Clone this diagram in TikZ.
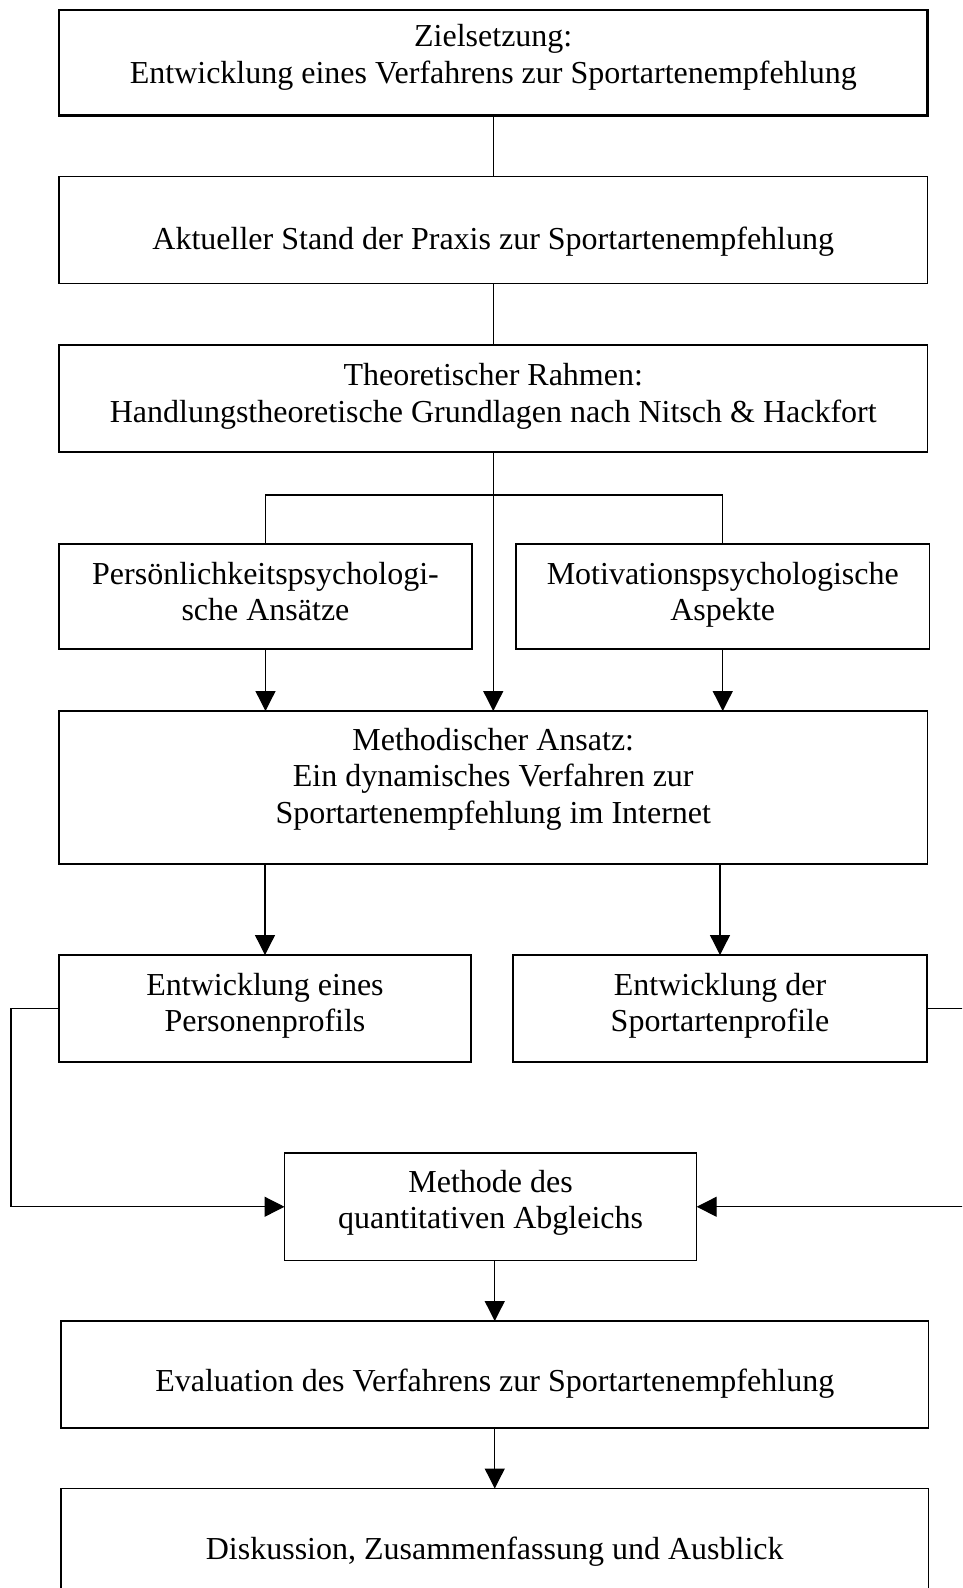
\documentclass[tikz,border=0pt]{standalone}
\usepackage{fontspec}
\setmainfont{Liberation Serif}
\usetikzlibrary{arrows.meta}
\begin{document}
\begin{tikzpicture}[x=1pt,y=-1pt,
  box/.style={draw, rectangle, line width=1.4pt, inner sep=0pt, outer sep=0pt},
  txt/.style={font=\fontsize{32}{36.5}\selectfont, align=center, anchor=base, inner sep=0pt},
  link/.style={line width=1.3pt},
  flow/.style={link, -{Triangle[length=20pt,width=20pt]}}]
\useasboundingbox (0,0) rectangle (962,1588);
\clip (0,0) rectangle (962,1588);
\fill[white] (0,0) rectangle (962,1588);

% boxes
\node[box, line width=2.2pt, minimum width=868.5pt, minimum height=105.5pt] (b1) at (493.25,62.75) {};
\node[box, minimum width=868.5pt, minimum height=106.6pt] (b2) at (493.25,230) {};
\node[box, minimum width=868.5pt, minimum height=107pt] (b3) at (493.25,398.5) {};
\node[box, minimum width=413pt, minimum height=105pt] (b4) at (265.5,596.5) {};
\node[box, minimum width=413.5pt, minimum height=105pt] (b5) at (722.75,596.5) {};
\node[box, minimum width=868.5pt, minimum height=153pt] (b6) at (493.25,787.5) {};
\node[box, minimum width=412pt, minimum height=107pt] (b7) at (265,1008.5) {};
\node[box, minimum width=414pt, minimum height=107pt] (b8) at (720,1008.5) {};
\node[box, minimum width=412.2pt, minimum height=107.5pt] (b9) at (490.6,1206.75) {};
\node[box, minimum width=867.5pt, minimum height=107pt] (b10) at (494.75,1374.5) {};
\node[box, minimum width=867.5pt, minimum height=131.5pt] (b11) at (494.75,1554.25) {};

% texts (anchored at the baseline of the last line)
\node[txt] (t1) at (493.25,83.1) {Zielsetzung:\\Entwicklung eines Verfahrens zur Sportartenempfehlung};
\node[txt] (t2) at (493.25,249.5) {Aktueller Stand der Praxis zur Sportartenempfehlung};
\node[txt] (t3) at (493.25,422.3) {Theoretischer Rahmen:\\Handlungstheoretische Grundlagen nach Nitsch \& Hackfort};
\node[txt] (t4) at (265.5,620.5) {Persönlichkeitspsychologi-\\sche Ansätze};
\node[txt] (t5) at (722.75,620.5) {Motivationspsychologische\\Aspekte};
\node[txt] (t6) at (493.25,823) {Methodischer Ansatz:\\Ein dynamisches Verfahren zur\\Sportartenempfehlung im Internet};
\node[txt] (t7) at (265,1031.9) {Entwicklung eines\\Personenprofils};
\node[txt] (t8) at (720,1031.9) {Entwicklung der\\Sportartenprofile};
\node[txt] (t9) at (490.6,1228.5) {Methode des\\quantitativen Abgleichs};
\node[txt] (t10) at (494.75,1391) {Evaluation des Verfahrens zur Sportartenempfehlung};
\node[txt] (t11) at (494.75,1559.5) {Diskussion, Zusammenfassung und Ausblick};

% helper points for bends
\coordinate (fork) at (493.25,495);
\coordinate (lbend) at (11,1206.75);
\coordinate (rbend) at (975,1206.75);

% connectors
\draw[link] (b1.south) -- (b2.north);
\draw[link] (b2.south) -- (b3.north);
\draw[flow] (b3.south) -- (b6.north);
\draw[link] (b4.north) |- (fork) -| (b5.north);
\draw[flow] (b4.south) -- (b4.south |- b6.north);
\draw[flow] (b5.south) -- (b5.south |- b6.north);
\draw[flow] (b7.north |- b6.south) -- (b7.north);
\draw[flow] (b8.north |- b6.south) -- (b8.north);
\draw[link] (b7.west) -| (lbend);
\draw[flow] (lbend) -- (b9.west);
\draw[link] (b8.east) -| (rbend);
\draw[flow] (rbend) -- (b9.east);
\draw[flow] (b9.south -| b10.north) -- (b10.north);
\draw[flow] (b10.south) -- (b11.north);
\end{tikzpicture}
\end{document}
